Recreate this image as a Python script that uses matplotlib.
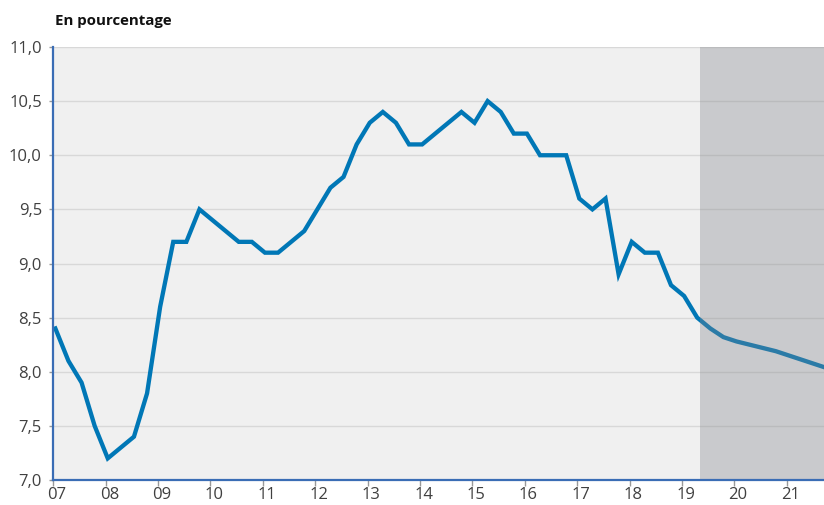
#!/usr/bin/env python3

import matplotlib
matplotlib.use('Agg')
import matplotlib.pyplot as plt
import numpy as np

# Quarterly values, 2007Q1 .. 2021Q4 (forecast from 2019Q2)
start_year = 2007
values = [8.4, 8.1, 7.9, 7.5,
          7.2, 7.3, 7.4, 7.8,
          8.6, 9.2, 9.2, 9.5,
          9.4, 9.3, 9.2, 9.2,
          9.1, 9.1, 9.2, 9.3,
          9.5, 9.7, 9.8, 10.1,
          10.3, 10.4, 10.3, 10.1,
          10.1, 10.2, 10.3, 10.4,
          10.3, 10.5, 10.4, 10.2,
          10.2, 10.0, 10.0, 10.0,
          9.6, 9.5, 9.6, 8.9,
          9.2, 9.1, 9.1, 8.8,
          8.7, 8.5, 8.4, 8.32,
          8.28, 8.25, 8.22, 8.19,
          8.15, 8.11, 8.07, 8.03]
years = list(range(2007, 2022))
year_labels = ['07', '08', '09', '10', '11', '12', '13', '14', '15', '16',
               '17', '18', '19', '20', '21']
y_ticks = [7.0, 7.5, 8.0, 8.5, 9.0, 9.5, 10.0, 10.5, 11.0]
forecast_start = 2019.31

x = start_year + np.arange(len(values)) / 4

plt.rcParams['font.family'] = ['Open Sans', 'DejaVu Sans']

fig = plt.figure(figsize=(8.24, 5.05), dpi=100)
ax = fig.add_axes([53 / 824, 25 / 505, 771 / 824, 433 / 505])
ax.set_facecolor('#f0f0f0')

ax.plot(x, values, color='#0077b6', lw=3.1, solid_joinstyle='miter', zorder=3)

# shaded forecast period (overlay)
ax.axvspan(forecast_start, 2030, color='#80838a', alpha=0.34, lw=0, zorder=4)

ax.set_ylim(7.0, 11.0)
ax.set_xlim(start_year - 0.045, start_year + 14.67)

ax.set_yticks(y_ticks)
ax.set_yticklabels([f'{v:.1f}'.replace('.', ',') for v in y_ticks])
ax.yaxis.grid(True, color='#d8d8d8', lw=1)
ax.set_axisbelow(True)

# year boundary ticks, labels on the first quarter
ax.set_xticks([y - 0.04 for y in years])
ax.set_xticklabels([])
ax.set_xticks([y + 0.03 for y in years], minor=True)
ax.set_xticklabels(year_labels, minor=True)
ax.tick_params(axis='x', which='major', length=4, width=1, color='#999999')
ax.tick_params(axis='x', which='minor', length=0, pad=5,
               labelsize=12, labelcolor='#404040')
ax.tick_params(axis='y', length=3, width=1, color='#999999', pad=5,
               labelsize=12, labelcolor='#404040')

for s in ['top', 'right']:
    ax.spines[s].set_visible(False)
for s in ['left', 'bottom']:
    ax.spines[s].set_color('#3a6db5')
    ax.spines[s].set_linewidth(1.6)
    ax.spines[s].set_zorder(5)

fig.text(55 / 824, 1 - 21 / 505, 'En pourcentage', fontsize=10.8,
         fontweight='bold', color='#111111', va='center', ha='left')

fig.savefig('out.png', dpi=100)
